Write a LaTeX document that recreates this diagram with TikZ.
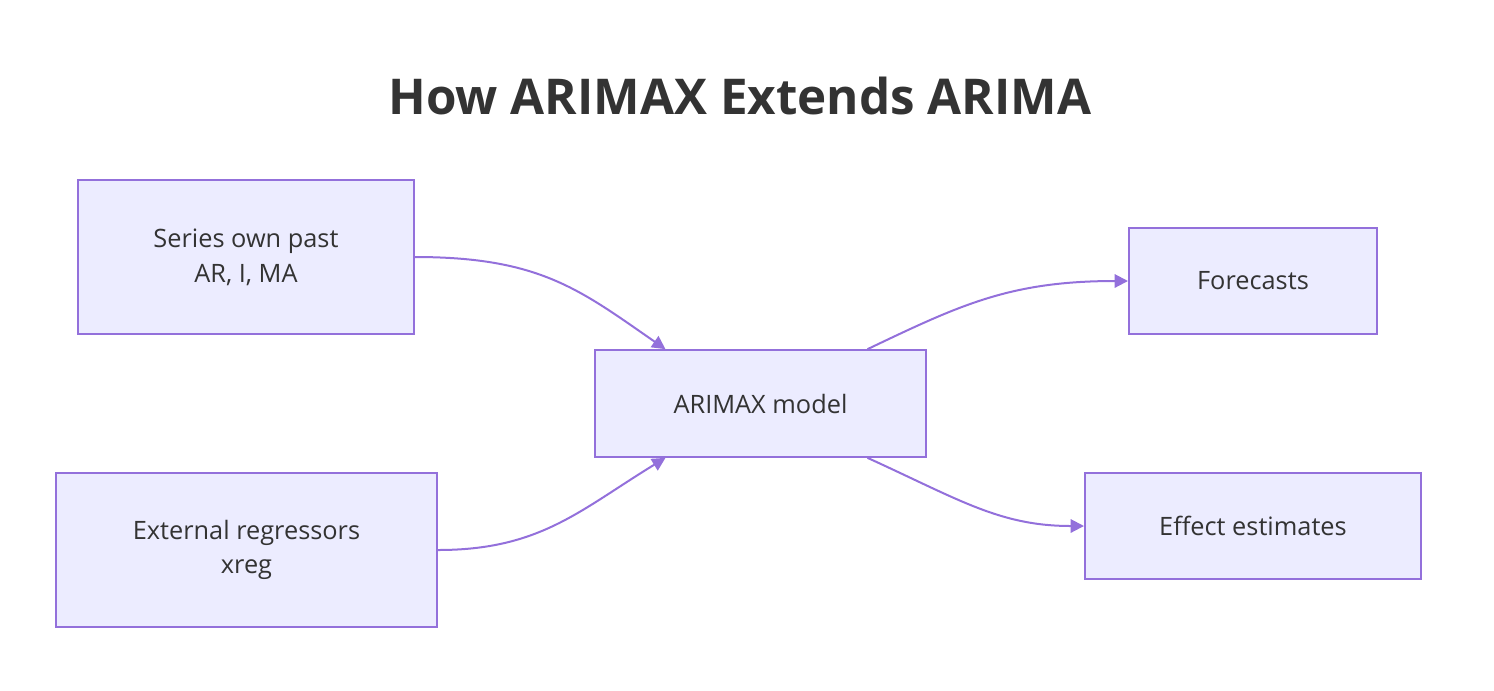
\documentclass[tikz,border=0pt]{standalone}
\usepackage{fontspec}
\setmainfont{Open Sans}
\usetikzlibrary{arrows.meta,calc}
\definecolor{boxfill}{HTML}{ECECFF}
\definecolor{boxline}{HTML}{9370DB}
\definecolor{txt}{HTML}{333333}
\tikzset{
  box/.style={draw=boxline,fill=boxfill,line width=1.5pt,text=txt,align=center,
    font=\fontsize{19pt}{26pt}\selectfont,inner sep=0pt},
  link/.style={draw=boxline,line width=1.5pt,-{Triangle[length=10pt,width=10pt]}}
}
\begin{document}
\begin{tikzpicture}[x=0.75pt,y=-0.75pt]
\useasboundingbox (0,0) rectangle (1494,690);
% title
\node[text=txt,font=\fontsize{37pt}{44pt}\selectfont\bfseries] (title) at (740,96) {How ARIMAX Extends ARIMA};
% boxes
\node[box,minimum width=252pt,minimum height=115pt] (past) at (246,257) {Series own past\\AR, I, MA};
\node[box,minimum width=286pt,minimum height=115.5pt] (xreg) at (246.5,550) {External regressors\\xreg};
\node[box,minimum width=248pt,minimum height=80pt] (model) at (760.5,403.5) {ARIMAX model};
\node[box,minimum width=186pt,minimum height=79.5pt] (fcst) at (1253,281) {Forecasts};
\node[box,minimum width=252pt,minimum height=79.5pt] (eff) at (1253,526) {Effect estimates};
% connectors
\coordinate (mtl) at ($(model.north)+(-95,0)$);
\coordinate (mbl) at ($(model.south)+(-95,0)$);
\coordinate (mtr) at ($(model.north)+(107,0)$);
\coordinate (mbr) at ($(model.south)+(107,0)$);
\draw[link] (past.east) .. controls (540,257) and (580,290) .. (mtl);
\draw[link] (xreg.east) .. controls (540,550) and (580,510) .. (mbl);
\draw[link] (mtr) .. controls (960,305) and (1010,281) .. (fcst.west);
\draw[link] (mbr) .. controls (960,500) and (1000,526) .. (eff.west);
\end{tikzpicture}
\end{document}
